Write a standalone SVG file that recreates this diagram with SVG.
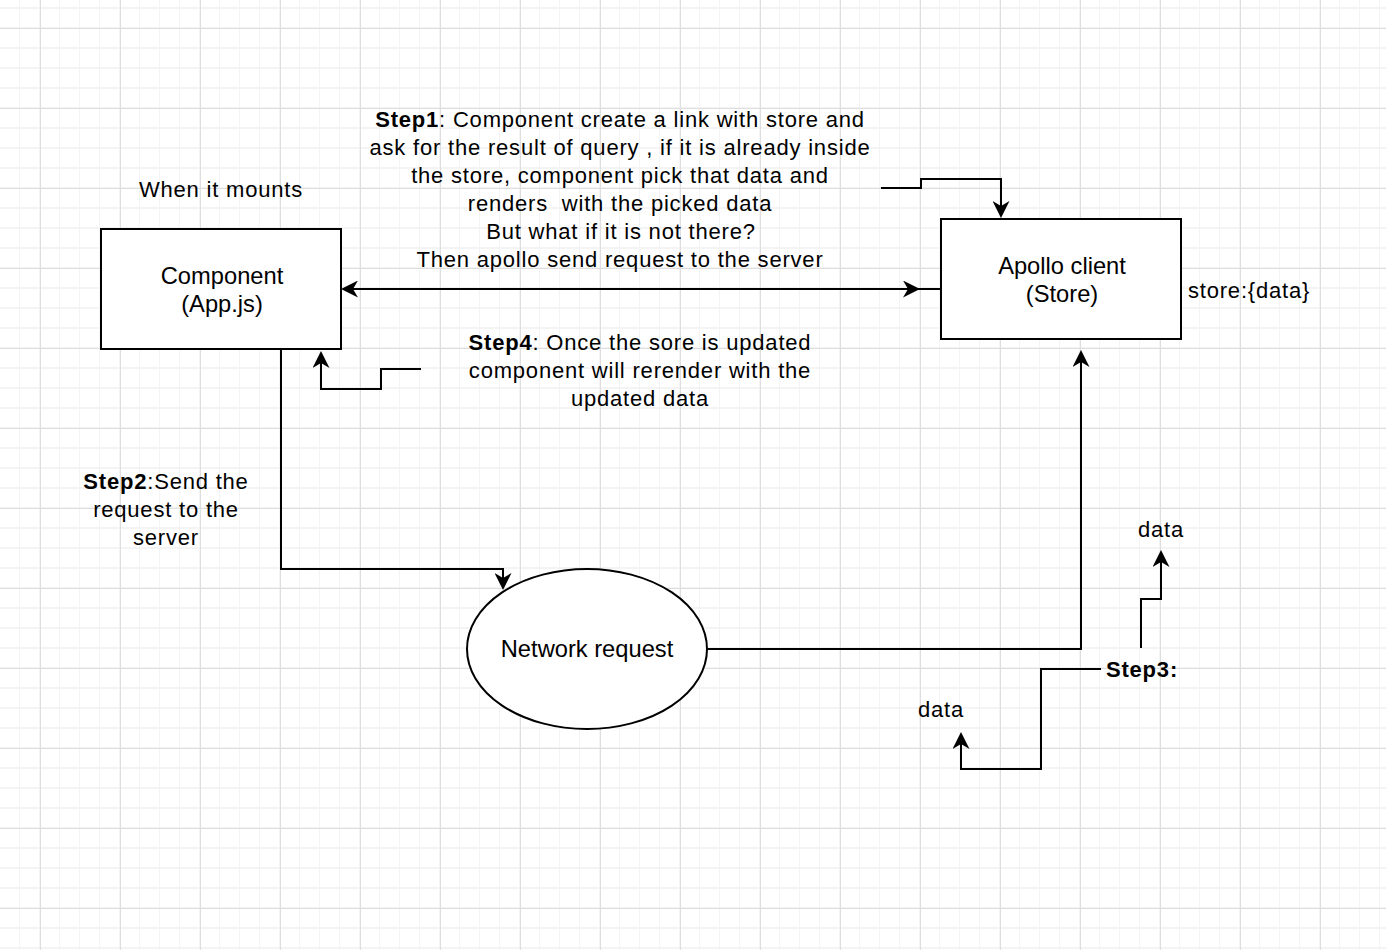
<svg xmlns="http://www.w3.org/2000/svg" width="1386" height="950" viewBox="0 0 1386 950">
  <defs>
    <pattern id="gridMinor" patternUnits="userSpaceOnUse" x="0" y="0" width="20" height="20">
      <rect x="19" y="0" width="2" height="20" fill="#f4f4f4"/>
      <rect x="0" y="7" width="20" height="2" fill="#f4f4f4"/>
    </pattern>
    <pattern id="gridMajor" patternUnits="userSpaceOnUse" x="0" y="0" width="80" height="80">
      <rect x="40" y="0" width="1" height="80" fill="#dedede"/>
      <rect x="0" y="28" width="80" height="1" fill="#dedede"/>
    </pattern>
    <marker id="arrow" markerUnits="userSpaceOnUse" viewBox="0 0 17 17" markerWidth="17" markerHeight="17" refX="13" refY="8.5" orient="auto-start-reverse">
      <path d="M0,0 L17,8.5 L0,17 L5,8.5 Z" fill="#000"/>
    </marker>
    <style>
      .shape { fill: #ffffff; stroke: #000000; stroke-width: 2; }
      .edge { fill: none; stroke: #000000; stroke-width: 2; }
      .arr { marker-end: url(#arrow); }
      .box { font-family: "Liberation Sans", Arial, Helvetica, sans-serif; font-size: 23.7px; fill: #000; text-anchor: middle; }
      .t { font-family: "Liberation Sans", Arial, Helvetica, sans-serif; font-size: 22px; letter-spacing: 0.8px; fill: #000; text-anchor: middle; white-space: pre; }
      .b { font-weight: bold; }
    </style>
  </defs>

  <rect x="0" y="0" width="1386" height="950" fill="#ffffff"/>
  <rect x="0" y="0" width="1386" height="950" fill="url(#gridMinor)"/>
  <rect x="0" y="0" width="1386" height="950" fill="url(#gridMajor)"/>

  <g id="connectors">
    <path class="edge" d="M345,289 H916" marker-start="url(#arrow)" marker-end="url(#arrow)"/>
    <path class="edge" d="M916,289 H941"/>
    <path class="edge arr" d="M881,188 H921 V179 H1001 V214"/>
    <path class="edge arr" d="M421,369 H381 V389 H321 V355"/>
    <path class="edge arr" d="M281,349 V569 H503 V586"/>
    <path class="edge arr" d="M707,649 H1081 V354"/>
    <path class="edge arr" d="M1101,669 H1041 V769 H961 V736"/>
    <path class="edge arr" d="M1141,648 V599 H1161 V554"/>
  </g>

  <g id="component">
    <rect class="shape" x="101" y="229" width="240" height="120"/>
    <text class="box" x="222" y="284">Component</text>
    <text class="box" x="222" y="312">(App.js)</text>
  </g>

  <g id="apollo">
    <rect class="shape" x="941" y="219" width="240" height="120"/>
    <text class="box" x="1062" y="274">Apollo client</text>
    <text class="box" x="1062" y="302">(Store)</text>
  </g>

  <g id="network">
    <ellipse class="shape" cx="587" cy="649" rx="120" ry="80"/>
    <text class="box" x="587" y="657">Network request</text>
  </g>

  <g id="label-mounts">
    <text class="t" x="221" y="197">When it mounts</text>
  </g>

  <g id="label-store">
    <text class="t" x="1188" y="298" style="text-anchor:start">store:{data}</text>
  </g>

  <g id="label-step1">
    <text class="t" x="620" y="127"><tspan class="b">Step1</tspan>: Component create a link with store and</text>
    <text class="t" x="620" y="155">ask for the result of query , if it is already inside</text>
    <text class="t" x="620" y="183">the store, component pick that data and</text>
    <text class="t" x="620" y="211">renders  with the picked data</text>
    <text class="t" x="621" y="239">But what if it is not there?</text>
    <text class="t" x="620" y="267">Then apollo send request to the server</text>
  </g>

  <g id="label-step4">
    <text class="t" x="640" y="350"><tspan class="b">Step4</tspan>: Once the sore is updated</text>
    <text class="t" x="640" y="378">component will rerender with the</text>
    <text class="t" x="640" y="406">updated data</text>
  </g>

  <g id="label-step2">
    <text class="t" x="166" y="489"><tspan class="b">Step2</tspan>:Send the</text>
    <text class="t" x="166" y="517">request to the</text>
    <text class="t" x="166" y="545">server</text>
  </g>

  <g id="label-step3">
    <text class="t b" x="1142" y="677">Step3:</text>
  </g>

  <g id="label-data-top">
    <text class="t" x="1161" y="537">data</text>
  </g>

  <g id="label-data-bottom">
    <text class="t" x="941" y="717">data</text>
  </g>
</svg>
